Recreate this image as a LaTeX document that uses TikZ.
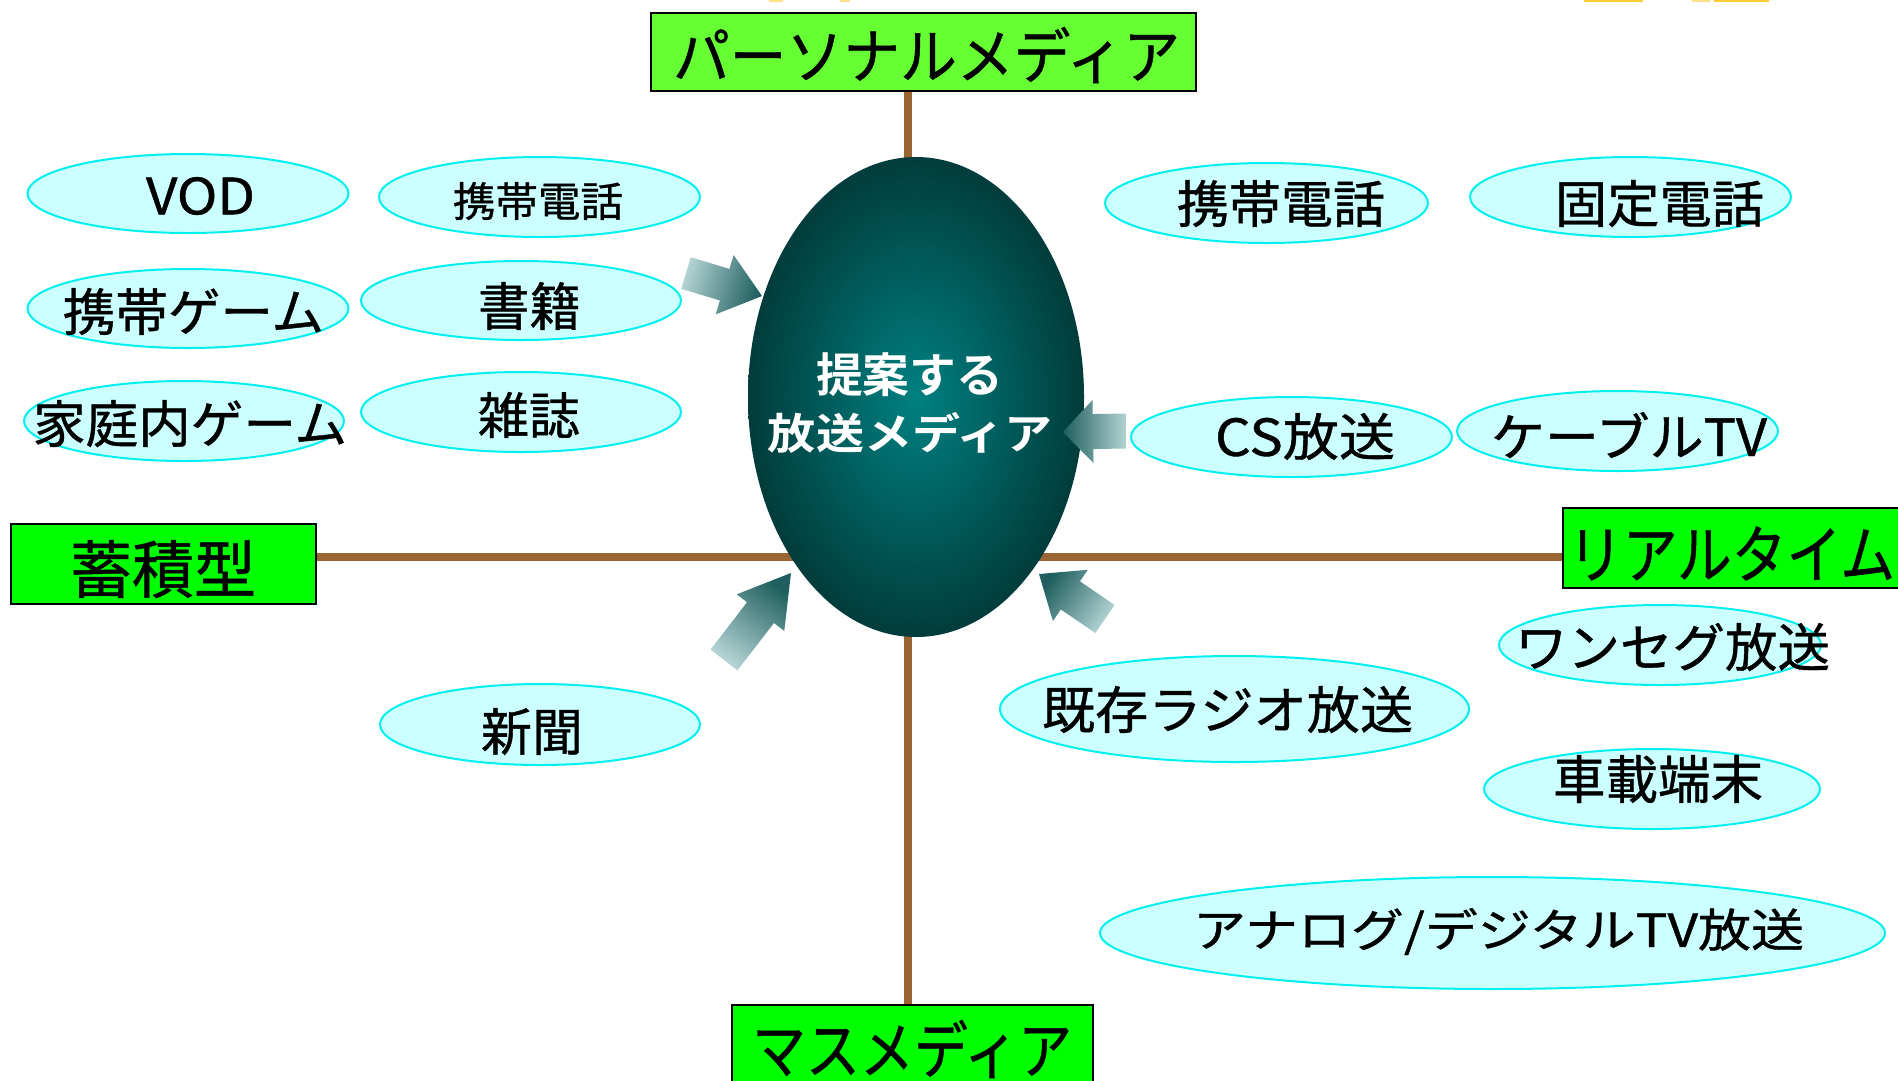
\documentclass[tikz,border=0pt]{standalone}
\usepackage{fontspec}
\usepackage{graphicx}
\newfontfamily\jp{Noto Sans CJK JP}[FakeBold=0.8]
\newfontfamily\jpb{Noto Sans CJK JP Bold}
\usetikzlibrary{calc,shapes.geometric}
\definecolor{cyanb}{HTML}{00F0F0}
\definecolor{cyanf}{HTML}{CCFFFF}
\definecolor{brownc}{HTML}{996633}
\definecolor{greenA}{HTML}{66FF33}
\definecolor{greenB}{HTML}{00FF00}
\definecolor{eggC}{HTML}{008080}
\definecolor{eggO}{HTML}{023C3C}
\definecolor{arrL}{HTML}{B4D3D3}
\definecolor{arrD}{HTML}{1F5F5F}
\definecolor{yelA}{HTML}{FFE08A}
\definecolor{yelB}{HTML}{FFCC33}
\newcommand{\fit}[3]{\resizebox*{#1pt}{#2pt}{\jp #3}}
\newcommand{\fitb}[3]{\resizebox*{#1pt}{#2pt}{\jpb #3}}
\newcommand{\blockarrow}[6]{%
  \coordinate (bb) at ($(#2)!#5pt!(#1)$);
  \shade[left color=arrL, right color=arrD, shading angle=#6]
    ($(#1)!#3pt!90:(#2)$) -- ($(bb)!#3pt!90:(#2)$) -- ($(bb)!#4pt!90:(#2)$) -- (#2)
    -- ($(bb)!#4pt!-90:(#2)$) -- ($(bb)!#3pt!-90:(#2)$) -- ($(#1)!#3pt!-90:(#2)$) -- cycle;}
\begin{document}
\begin{tikzpicture}[x=1pt,y=-1pt,
  ell/.style={ellipse, draw=cyanb, fill=cyanf, line width=2pt, inner sep=0pt},
  box/.style={rectangle, draw=black, line width=2.5pt, inner sep=0pt},
  lbl/.style={inner sep=0pt, text=black},
  wlbl/.style={inner sep=0pt, text=white},
  axisline/.style={draw=brownc, line width=8pt}]
\fill[white] (0,0) rectangle (1898,1080);
\useasboundingbox (0,0) rectangle (1898,1080);

% tiny yellow fragments at the top edge
\fill[yelA] (769,0) rectangle (783,1.5);
\fill[yelA] (840,0) rectangle (850,1.5);
\fill[yelB] (1584,0) rectangle (1643,1.5);
\fill[yelA] (1692,0) rectangle (1710,1.5);
\fill[yelB] (1714,0) rectangle (1769,1.5);

% boxes
\node[box, fill=greenA, minimum width=545, minimum height=78] (pm) at (923.5,52) {};
\node[box, fill=greenB, minimum width=305, minimum height=80] (stk) at (163.5,564) {};
\node[box, fill=greenB, minimum width=347, minimum height=80] (rt) at (1736.5,548) {};
\node[box, fill=greenB, minimum width=361, minimum height=90] (mm) at (912.5,1050) {};

% axes
\coordinate (hy) at (908,557);
\draw[axisline] (stk.east |- hy) -- (rt.west |- hy);
\draw[axisline] (pm.south -| hy) -- (mm.north -| hy);

\node[lbl] at (926.5,55) {\fit{507}{56}{パーソナルメディア}};
\node[lbl] at (163,569) {\fit{186}{58}{蓄積型}};
\node[lbl] at (1731.5,553.5) {\fit{327}{54}{リアルタイム}};
\node[lbl] at (912,1049) {\fit{320}{58}{マスメディア}};

% egg
\node[ellipse, minimum width=336, minimum height=480, inner sep=0pt,
      inner color=eggC, outer color=eggO] (egg) at (916,397) {};
\node[wlbl] at (909.5,375) {\fitb{187}{44}{提案する}};
\node[wlbl] at (910.5,432.5) {\fitb{285}{41}{放送メディア}};

% ellipses
\node[ell, minimum width=321, minimum height=79] (vod) at (188,193.5) {};
\node[lbl] at (200.5,196) {\fit{109}{38}{VOD}};
\node[ell, minimum width=321, minimum height=80] (ktL) at (539.5,197) {};
\node[lbl] at (538,201) {\fit{170}{38}{携帯電話}};
\node[ell, minimum width=321, minimum height=79] (kg) at (188,308.5) {};
\node[lbl] at (193.5,311.5) {\fit{261}{47}{携帯ゲーム}};
\node[ell, minimum width=320, minimum height=79] (sho) at (521,300.5) {};
\node[lbl] at (529.5,306) {\fit{103}{48}{書籍}};
\node[ell, minimum width=320, minimum height=80] (kat) at (184,421) {};
\node[lbl] at (190,423.5) {\fit{314}{47}{家庭内ゲーム}};
\node[ell, minimum width=320, minimum height=80] (zas) at (521,412) {};
\node[lbl] at (529,415) {\fit{102}{46}{雑誌}};
\node[ell, minimum width=323, minimum height=80] (ktR) at (1266.5,203) {};
\node[lbl] at (1281,203.5) {\fit{208}{47}{携帯電話}};
\node[ell, minimum width=321, minimum height=80] (kot) at (1630.5,197) {};
\node[lbl] at (1659.5,203.5) {\fit{209}{47}{固定電話}};
\node[ell, minimum width=321, minimum height=80] (cs) at (1291.5,437) {};
\node[lbl] at (1305,436.5) {\fit{180}{47}{CS放送}};
\node[ell, minimum width=321, minimum height=80] (cab) at (1617.5,431) {};
\node[lbl] at (1629,435) {\fit{276}{46}{ケーブルTV}};
\node[ell, minimum width=322, minimum height=80] (one) at (1660,645) {};
\node[lbl] at (1672.5,647) {\fit{315}{48}{ワンセグ放送}};
\node[ell, minimum width=469, minimum height=106] (rad) at (1234.5,709) {};
\node[lbl] at (1227.5,709.5) {\fit{371}{47}{既存ラジオ放送}};
\node[ell, minimum width=336, minimum height=80] (car) at (1652,789) {};
\node[lbl] at (1658,779) {\fit{210}{48}{車載端末}};
\node[ell, minimum width=785, minimum height=112] (ana) at (1492.5,933) {};
\node[lbl] at (1498.5,931.5) {\fit{611}{47}{アナログ/デジタルTV放送}};
\node[ell, minimum width=320, minimum height=81] (shin) at (540,724.5) {};
\node[lbl] at (532,731.5) {\fit{102}{47}{新聞}};

% block arrows
\coordinate (a1c) at (686,273);  \coordinate (a1t) at (762,296);
\coordinate (a2c) at (1126,431); \coordinate (a2t) at (1063,432);
\coordinate (a3c) at (724,660);  \coordinate (a3t) at (791,573);
\coordinate (a4c) at (1105,619); \coordinate (a4t) at (1039,574);
\blockarrow{a1c}{a1t}{16.5}{31}{39}{73.2}
\blockarrow{a2c}{a2t}{17.5}{31.5}{30}{270}
\blockarrow{a3c}{a3t}{17}{30}{50}{142.4}
\blockarrow{a4c}{a4t}{17}{31}{38}{235.7}
\end{tikzpicture}
\end{document}
